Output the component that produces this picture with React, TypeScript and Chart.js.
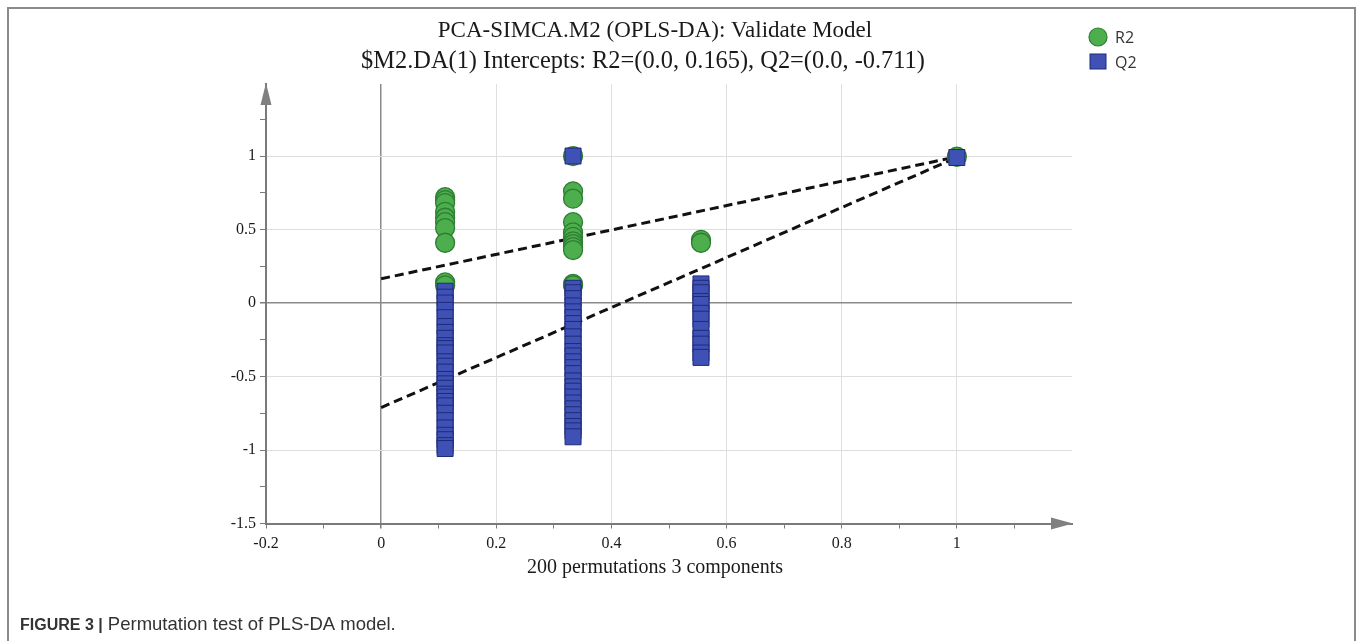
import { useEffect, useRef } from "react";
import { Chart, registerables } from "chart.js";

Chart.register(...registerables);

// ---- data ----
const permutationX = [1 / 9, 1 / 3, 5 / 9];
const originalX = 1;

const r2At011 = [0.72, 0.7, 0.68, 0.62, 0.58, 0.55, 0.51, 0.41, 0.14, 0.12];
const r2At033 = [1.0, 0.76, 0.71, 0.55, 0.48, 0.45, 0.42, 0.4, 0.38, 0.36, 0.13, 0.12];
const r2At056 = [0.43, 0.41];
const r2Original = 0.995;

const q2At011 = [0.08, 0.04, 0.0, -0.05, -0.1, -0.16, -0.2, -0.24, -0.29, -0.31, -0.34, -0.4, -0.43, -0.47, -0.52, -0.55, -0.58, -0.62, -0.64, -0.67, -0.7, -0.75, -0.8, -0.85, -0.9, -0.93, -0.97, -0.99];
const q2At033 = [1.0, 0.1, 0.07, 0.03, -0.02, -0.06, -0.1, -0.14, -0.18, -0.23, -0.28, -0.33, -0.36, -0.4, -0.44, -0.48, -0.53, -0.57, -0.6, -0.64, -0.68, -0.72, -0.76, -0.8, -0.84, -0.87, -0.91];
const q2At056 = [0.13, 0.1, 0.07, 0.01, -0.01, -0.07, -0.11, -0.18, -0.24, -0.28, -0.34, -0.37];
const q2Original = 0.99;

const r2Intercept = 0.165;
const q2Intercept = -0.711;

const titleLines = [
  "PCA-SIMCA.M2 (OPLS-DA): Validate Model",
  "$M2.DA(1) Intercepts: R2=(0.0, 0.165), Q2=(0.0, -0.711)",
];
const xAxisTitle = "200 permutations 3 components";
const legendLabels = ["R2", "Q2"];
const captionBold = "FIGURE 3 |";
const captionText = " Permutation test of PLS-DA model.";

const xMin = -0.2;
const xMax = 1.2;
const yMin = -1.5;
const yMax = 1.49;

// ---- styles ----
const GREEN = "#4cae4c";
const GREEN_BORDER = "#2e7d32";
const BLUE = "#3f51b5";
const BLUE_BORDER = "#1f2a7a";
const W = 1360;
const H = 641;

const toPoints = (x: number, ys: number[]) => ys.map((y) => ({ x, y }));

const r2Points = [
  ...toPoints(permutationX[0], r2At011),
  ...toPoints(permutationX[1], r2At033),
  ...toPoints(permutationX[2], r2At056),
  { x: originalX, y: r2Original },
];
const q2Points = [
  ...toPoints(permutationX[0], q2At011),
  ...toPoints(permutationX[1], q2At033),
  ...toPoints(permutationX[2], q2At056),
  { x: originalX, y: q2Original },
];

const isMult = (v: number, step: number) => Math.abs(v / step - Math.round(v / step)) < 1e-6;

const decorPlugin = {
  id: "decor",
  beforeDraw(chart: any) {
    const ctx = chart.ctx as CanvasRenderingContext2D;
    ctx.save();
    ctx.fillStyle = "#ffffff";
    ctx.fillRect(0, 0, W, H);
    ctx.strokeStyle = "#8a8a8a";
    ctx.lineWidth = 2;
    ctx.beginPath();
    ctx.moveTo(8, H);
    ctx.lineTo(8, 8);
    ctx.lineTo(1355, 8);
    ctx.lineTo(1355, H);
    ctx.stroke();
    ctx.restore();
  },
  afterDraw(chart: any) {
    const ctx = chart.ctx as CanvasRenderingContext2D;
    const { left, right, top, bottom } = chart.chartArea;
    ctx.save();
    // arrows
    ctx.fillStyle = "#808080";
    ctx.beginPath();
    ctx.moveTo(left, top - 1);
    ctx.lineTo(left - 5.5, top + 21);
    ctx.lineTo(left + 5.5, top + 21);
    ctx.closePath();
    ctx.fill();
    ctx.beginPath();
    ctx.moveTo(right + 1, bottom);
    ctx.lineTo(right - 21, bottom - 6);
    ctx.lineTo(right - 21, bottom + 6);
    ctx.closePath();
    ctx.fill();

    // title
    ctx.fillStyle = "#1a1a1a";
    ctx.textAlign = "center";
    ctx.textBaseline = "alphabetic";
    ctx.font = '23px "Liberation Serif"';
    ctx.fillText(titleLines[0], 655, 37);
    ctx.font = '24.4px "Liberation Serif"';
    ctx.fillText(titleLines[1], 643, 68);

    // x axis title
    ctx.font = '20px "Liberation Serif"';
    ctx.fillText(xAxisTitle, 655, 573);

    // legend
    ctx.textAlign = "left";
    ctx.beginPath();
    ctx.arc(1098, 37, 9, 0, Math.PI * 2);
    ctx.fillStyle = GREEN;
    ctx.fill();
    ctx.lineWidth = 1.2;
    ctx.strokeStyle = GREEN_BORDER;
    ctx.stroke();
    ctx.fillStyle = BLUE;
    ctx.fillRect(1090, 54, 16, 15);
    ctx.lineWidth = 1;
    ctx.strokeStyle = BLUE_BORDER;
    ctx.strokeRect(1090, 54, 16, 15);
    ctx.fillStyle = "#333";
    ctx.font = '16px "Open Sans"';
    ctx.fillText(legendLabels[0], 1115, 43);
    ctx.fillText(legendLabels[1], 1115, 68);

    // caption
    ctx.fillStyle = "#333";
    ctx.font = 'bold 16px "Liberation Sans"';
    ctx.fillText(captionBold, 20, 630);
    const bw = ctx.measureText(captionBold).width;
    ctx.font = '18.5px "Liberation Sans"';
    ctx.fillText(captionText, 20 + bw, 630);
    ctx.restore();
  },
};

export default function App() {
  const ref = useRef<HTMLCanvasElement | null>(null);
  useEffect(() => {
    if (!ref.current) return;
    const chart = new Chart(ref.current, {
      type: "scatter",
      data: {
        datasets: [
          {
            label: "Q2",
            data: q2Points,
            pointStyle: "rect",
            pointRadius: 11.3,
            backgroundColor: BLUE,
            borderColor: BLUE_BORDER,
            borderWidth: 1,
            order: 0,
          },
          {
            label: "R2",
            data: r2Points,
            pointStyle: "circle",
            pointRadius: 9.5,
            backgroundColor: GREEN,
            borderColor: GREEN_BORDER,
            borderWidth: 1.3,
            order: 1,
          },
          {
            label: "R2 line",
            data: [
              { x: 0, y: r2Intercept },
              { x: originalX, y: r2Original },
            ],
            showLine: true,
            borderColor: "#111",
            borderWidth: 3,
            borderDash: [9, 5],
            pointRadius: 0,
            order: 2,
          },
          {
            label: "Q2 line",
            data: [
              { x: 0, y: q2Intercept },
              { x: originalX, y: q2Original },
            ],
            showLine: true,
            borderColor: "#111",
            borderWidth: 3,
            borderDash: [9, 5],
            pointRadius: 0,
            order: 3,
          },
        ],
      },
      options: {
        responsive: false,
        animation: false,
        devicePixelRatio: 1,
        events: [],
        layout: { padding: { left: 206, right: 288, top: 84, bottom: 57.5 } },
        plugins: {
          legend: { display: false },
          title: { display: false },
          tooltip: { enabled: false },
        },
        scales: {
          x: {
            type: "linear",
            min: xMin,
            max: xMax,
            afterFit: (s: any) => {
              s.height = 60;
            },
            ticks: {
              stepSize: 0.1,
              includeBounds: false,
              autoSkip: false,
              maxRotation: 0,
              padding: 6,
              color: "#1a1a1a",
              font: { family: "Liberation Serif", size: 16 },
              callback: (v: any) => {
                const n = Number(v);
                if (n > 1.15 || !isMult(n, 0.2)) return "";
                return String(Math.round(n * 10) / 10);
              },
            },
            grid: {
              color: (c: any) => {
                const v = c.tick ? c.tick.value : NaN;
                if (Math.abs(v) < 1e-6) return "#8a8a8a";
                if (v > -0.15 && v < 1.15 && isMult(v, 0.2)) return "#dedede";
                return "rgba(0,0,0,0)";
              },
              lineWidth: (c: any) => (c.tick && Math.abs(c.tick.value) < 1e-6 ? 1.5 : 1),
              tickColor: (c: any) => (c.tick && c.tick.value > 1.15 ? "rgba(0,0,0,0)" : "#7a7a7a"),
              tickLength: 5,
            },
            border: { display: true, color: "#7a7a7a", width: 2 },
          },
          y: {
            type: "linear",
            min: yMin,
            max: yMax,
            afterFit: (s: any) => {
              s.width = 60;
            },
            ticks: {
              stepSize: 0.25,
              includeBounds: false,
              autoSkip: false,
              padding: 4,
              color: "#1a1a1a",
              font: { family: "Liberation Serif", size: 16 },
              callback: (v: any) => {
                const n = Number(v);
                if (!isMult(n, 0.5)) return "";
                return String(Math.round(n * 100) / 100);
              },
            },
            grid: {
              color: (c: any) => {
                const v = c.tick ? c.tick.value : NaN;
                if (Math.abs(v) < 1e-6) return "#8a8a8a";
                if (v > -1.45 && isMult(v, 0.5)) return "#dedede";
                return "rgba(0,0,0,0)";
              },
              lineWidth: (c: any) => (c.tick && Math.abs(c.tick.value) < 1e-6 ? 1.5 : 1),
              tickColor: "#7a7a7a",
              tickLength: 6,
            },
            border: { display: true, color: "#7a7a7a", width: 2 },
          },
        },
      },
      plugins: [decorPlugin],
    });
    return () => chart.destroy();
  }, []);

  return (
    <div style={{ position: "fixed", left: 0, top: 0, width: W, height: H }}>
      <canvas ref={ref} width={W} height={H} style={{ display: "block", width: W, height: H }} />
    </div>
  );
}
